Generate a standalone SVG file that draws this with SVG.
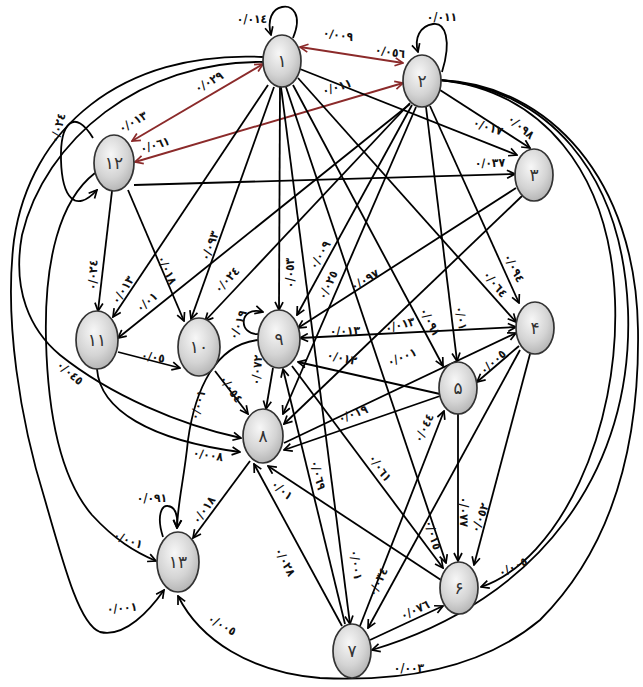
<svg xmlns="http://www.w3.org/2000/svg" width="643" height="687" viewBox="0 0 643 687">
<defs>
<radialGradient id="g" cx="42%" cy="35%" r="70%">
<stop offset="0" stop-color="#f7f7f7"/><stop offset="0.6" stop-color="#d4d4d4"/><stop offset="1" stop-color="#b0b0b0"/>
</radialGradient>
<marker id="a" viewBox="0 0 10 10" refX="9" refY="5" markerWidth="10" markerHeight="10" markerUnits="userSpaceOnUse" orient="auto-start-reverse">
<path d="M1,1 L9,5 L1,9" fill="none" stroke="#000" stroke-width="1.7"/>
</marker>
<marker id="ar" viewBox="0 0 10 10" refX="9" refY="5" markerWidth="10" markerHeight="10" markerUnits="userSpaceOnUse" orient="auto-start-reverse">
<path d="M1,1 L9,5 L1,9" fill="none" stroke="#8b2a2a" stroke-width="1.7"/>
</marker>
<style>
.e{stroke:#000;stroke-width:1.8;fill:none;marker-end:url(#a)}
.b{marker-start:url(#a)}
.r{stroke:#8b2a2a;stroke-width:1.9;fill:none;marker-end:url(#ar);marker-start:url(#ar)}
.n ellipse{fill:url(#g);stroke:#333;stroke-width:1.7}
.n text{font-family:"DejaVu Sans",sans-serif;font-size:17px;fill:#333;text-anchor:middle;dominant-baseline:central}
.l{font-family:"DejaVu Sans Condensed","DejaVu Sans",sans-serif;font-size:12px;font-weight:bold;fill:#111;text-anchor:middle;dominant-baseline:central}
</style>
</defs>
<rect width="643" height="687" fill="#fff"/>
<g id="connectors">
<line class="r" x1="300" y1="47" x2="403" y2="63"/>
<line class="r" x1="263" y1="64" x2="132" y2="141"/>
<line class="r" x1="403" y1="83" x2="135" y2="162"/>
<path class="e" d="M293,38 C303,14 292,5 282,7 C272,9 267,20 271,35"/>
<path class="e" d="M442,72 C452,40 445,22 433,24 C420,26 414,38 418,52"/>
<path class="e" d="M93,138 C75,108 60,122 61,160 C62,197 75,214 97,190"/>
<path class="e" d="M259,334 C238,336 238,305 263,312"/>
<path class="e" d="M163,537 C156,515 162,505 168,506 C176,507 178,515 177,528"/>
<line class="e" x1="300" y1="69" x2="517" y2="155"/>
<line class="e" x1="440" y1="90" x2="530" y2="148"/>
<line class="e" x1="134" y1="185" x2="515" y2="174"/>
<line class="e" x1="112" y1="191" x2="98" y2="311"/>
<line class="e" x1="268" y1="85" x2="113" y2="317"/>
<line class="e" x1="410" y1="104" x2="118" y2="338"/>
<line class="e" x1="128" y1="190" x2="184" y2="321"/>
<line class="e" x1="274" y1="87" x2="191" y2="319"/>
<line class="e" x1="410" y1="103" x2="205" y2="321"/>
<line class="e" x1="118" y1="352" x2="180" y2="368"/>
<line class="e" x1="280" y1="87" x2="279" y2="310"/>
<line class="e" x1="412" y1="105" x2="297" y2="315"/>
<line class="e" x1="416" y1="107" x2="283" y2="414"/>
<line class="e" x1="516" y1="188" x2="298" y2="328"/>
<line class="e b" x1="300" y1="338" x2="516" y2="327"/>
<line class="e" x1="284" y1="443" x2="516" y2="333"/>
<line class="e" x1="522" y1="196" x2="284" y2="424"/>
<line class="e" x1="293" y1="85" x2="443" y2="366"/>
<line class="e" x1="426" y1="107" x2="457" y2="361"/>
<line class="e" x1="298" y1="78" x2="516" y2="322"/>
<line class="e" x1="430" y1="106" x2="519" y2="303"/>
<line class="e" x1="519" y1="346" x2="477" y2="382"/>
<line class="e" x1="440" y1="394" x2="298" y2="362"/>
<line class="e" x1="440" y1="396" x2="284" y2="450"/>
<line class="e" x1="215" y1="371" x2="248" y2="414"/>
<line class="e" x1="273" y1="368" x2="266" y2="409"/>
<line class="e" x1="250" y1="461" x2="193" y2="538"/>
<line class="e" x1="342" y1="626" x2="254" y2="464"/>
<line class="e" x1="441" y1="580" x2="268" y2="466"/>
<line class="e" x1="345" y1="624" x2="283" y2="369"/>
<line class="e" x1="292" y1="366" x2="443" y2="568"/>
<line class="e" x1="286" y1="87" x2="446" y2="563"/>
<line class="e" x1="281" y1="87" x2="350" y2="624"/>
<line class="e" x1="458" y1="414" x2="458" y2="561"/>
<line class="e" x1="530" y1="354" x2="474" y2="565"/>
<line class="e" x1="520" y1="350" x2="368" y2="628"/>
<line class="e" x1="360" y1="626" x2="444" y2="411"/>
<line class="e" x1="370" y1="640" x2="443" y2="606"/>
<path class="e" d="M97,369 C100,410 150,440 240,452"/>
<path class="e" d="M264,62 C140,60 45,140 22,235 C12,290 30,330 60,355 C110,395 180,425 241,438"/>
<path class="e" d="M263,57 C120,50 30,130 14,240 C4,320 20,420 45,500 C65,570 80,625 100,632 C125,638 150,610 164,590"/>
<path class="e" d="M95,173 C60,200 44,260 46,340 C48,420 62,480 92,515 C115,540 135,552 156,561"/>
<path class="e" d="M258,340 C215,345 195,390 188,440 C184,480 178,500 177,528"/>
<path class="e" d="M440,80 C540,90 610,170 615,300 C620,430 560,560 481,587"/>
<path class="e" d="M440,80 C545,88 622,170 628,310 C634,470 540,600 372,650"/>
<path class="e" d="M440,80 C550,85 636,180 638,330 C640,470 600,560 540,620 C480,670 400,682 320,678 C250,672 200,640 178,596"/>
</g>
<g id="labels">
<text class="l" x="252" y="19">٠/٠١٤</text>
<text class="l" x="338" y="35" transform="rotate(8 338 35)">٠/٠٠٩</text>
<text class="l" x="390" y="52" transform="rotate(8 390 52)">٠/٠٥٦</text>
<text class="l" x="442" y="17">٠/٠١١</text>
<text class="l" x="337" y="87" transform="rotate(-17 337 87)">٠/٠١١</text>
<text class="l" x="209" y="82" transform="rotate(-30 209 82)">٠/٠٢٩</text>
<text class="l" x="133" y="122" transform="rotate(-30 133 122)">٠/٠١٣</text>
<text class="l" x="155" y="145" transform="rotate(-17 155 145)">٠/٠٦١</text>
<text class="l" x="58" y="128" transform="rotate(-75 58 128)">٠/٠٢٤</text>
<text class="l" x="521" y="127" transform="rotate(40 521 127)">٠/٠٩٨</text>
<text class="l" x="488" y="127" transform="rotate(18 488 127)">٠/٠١٧</text>
<text class="l" x="490" y="163" transform="rotate(-2 490 163)">٠/٠٣٧</text>
<text class="l" x="93" y="275" transform="rotate(-88 93 275)">٠/٠٢٤</text>
<text class="l" x="123" y="290" transform="rotate(-57 123 290)">٠/٠١٣</text>
<text class="l" x="147" y="302" transform="rotate(-40 147 302)">٠/٠١</text>
<text class="l" x="167" y="270" transform="rotate(65 167 270)">٠/٠١٨</text>
<text class="l" x="210" y="246" transform="rotate(-70 210 246)">٠/٠٩٣</text>
<text class="l" x="227" y="280" transform="rotate(-47 227 280)">٠/٠٢٤</text>
<text class="l" x="153" y="357" transform="rotate(8 153 357)">٠/٠٥</text>
<text class="l" x="290" y="273" transform="rotate(-90 290 273)">٠/٠٥٣</text>
<text class="l" x="320" y="255" transform="rotate(-60 320 255)">٠/٠٠٩</text>
<text class="l" x="328" y="285" transform="rotate(-65 328 285)">٠/٠٢٥</text>
<text class="l" x="365" y="280" transform="rotate(-30 365 280)">٠/٠٩٧</text>
<text class="l" x="345" y="331" transform="rotate(-2 345 331)">٠/٠١٣</text>
<text class="l" x="400" y="325" transform="rotate(-15 400 325)">٠/٠١٣</text>
<text class="l" x="402" y="357" transform="rotate(-22 402 357)">٠/٠٠١</text>
<text class="l" x="430" y="322" transform="rotate(62 430 322)">٠/٠٩١</text>
<text class="l" x="461" y="318" transform="rotate(80 461 318)">٠/٠١</text>
<text class="l" x="495" y="284" transform="rotate(50 495 284)">٠/٠٦٤</text>
<text class="l" x="514" y="268" transform="rotate(62 514 268)">٠/٠٩٤</text>
<text class="l" x="493" y="362" transform="rotate(-42 493 362)">٠/٠٠٥</text>
<text class="l" x="342" y="358" transform="rotate(12 342 358)">٠/٠١٢</text>
<text class="l" x="353" y="414" transform="rotate(-20 353 414)">٠/٠١٩</text>
<text class="l" x="238" y="325" transform="rotate(-70 238 325)">٠/٠١٩</text>
<text class="l" x="231" y="389" transform="rotate(55 231 389)">٠/٠٥٤</text>
<text class="l" x="257" y="370" transform="rotate(-85 257 370)">٠/٠٧٢</text>
<text class="l" x="208" y="455" transform="rotate(8 208 455)">٠/٠٠٨</text>
<text class="l" x="70" y="373" transform="rotate(40 70 373)">٠/٠٤٥</text>
<text class="l" x="198" y="405" transform="rotate(-75 198 405)">٠/٠٠١</text>
<text class="l" x="152" y="498">٠/٠٩١</text>
<text class="l" x="204" y="510" transform="rotate(-55 204 510)">٠/٠١٨</text>
<text class="l" x="128" y="540" transform="rotate(20 128 540)">٠/٠٠١</text>
<text class="l" x="122" y="608" transform="rotate(-5 122 608)">٠/٠٠١</text>
<text class="l" x="222" y="625" transform="rotate(30 222 625)">٠/٠٠٥</text>
<text class="l" x="285" y="562" transform="rotate(62 285 562)">٠/٠٢٨</text>
<text class="l" x="282" y="490" transform="rotate(40 282 490)">٠/٠١</text>
<text class="l" x="318" y="475" transform="rotate(75 318 475)">٠/٠٦٩</text>
<text class="l" x="380" y="468" transform="rotate(55 380 468)">٠/٠٦١</text>
<text class="l" x="433" y="535" transform="rotate(72 433 535)">٠/٠١٥</text>
<text class="l" x="356" y="565" transform="rotate(82 356 565)">٠/٠٠١</text>
<text class="l" x="464" y="512" transform="rotate(90 464 512)">٠/٠٧٧</text>
<text class="l" x="480" y="518" transform="rotate(-70 480 518)">٠/٠٥٢</text>
<text class="l" x="378" y="582" transform="rotate(-65 378 582)">٠/٠٣٤</text>
<text class="l" x="424" y="428" transform="rotate(-65 424 428)">٠/٠٤٤</text>
<text class="l" x="415" y="610" transform="rotate(-25 415 610)">٠/٠٧٦</text>
<text class="l" x="513" y="567" transform="rotate(-25 513 567)">٠/٠٠٥</text>
<text class="l" x="409" y="668">٠/٠٠٣</text>
</g>
<g id="n1" class="n"><ellipse cx="282" cy="61" rx="19" ry="26"/><text x="282" y="61">١</text></g>
<g id="n2" class="n"><ellipse cx="422" cy="81" rx="19" ry="26"/><text x="422" y="81">٢</text></g>
<g id="n3" class="n"><ellipse cx="534" cy="175" rx="19" ry="26"/><text x="534" y="175">٣</text></g>
<g id="n4" class="n"><ellipse cx="535" cy="328" rx="19" ry="26"/><text x="535" y="328">۴</text></g>
<g id="n5" class="n"><ellipse cx="458" cy="388" rx="19" ry="26"/><text x="458" y="388">۵</text></g>
<g id="n6" class="n"><ellipse cx="459" cy="588" rx="19" ry="26"/><text x="459" y="588">۶</text></g>
<g id="n7" class="n"><ellipse cx="352" cy="651" rx="19" ry="27"/><text x="352" y="651">٧</text></g>
<g id="n8" class="n"><ellipse cx="263" cy="436" rx="20" ry="27"/><text x="263" y="436">٨</text></g>
<g id="n9" class="n"><ellipse cx="279" cy="339" rx="21" ry="29"/><text x="279" y="339">٩</text></g>
<g id="n10" class="n"><ellipse cx="199" cy="347" rx="21" ry="29"/><text x="199" y="347">١٠</text></g>
<g id="n11" class="n"><ellipse cx="97" cy="340" rx="21" ry="29"/><text x="97" y="340">١١</text></g>
<g id="n12" class="n"><ellipse cx="114" cy="163" rx="20" ry="28"/><text x="114" y="163">١٢</text></g>
<g id="n13" class="n"><ellipse cx="178" cy="562" rx="21" ry="30"/><text x="178" y="562">١٣</text></g>
</svg>
